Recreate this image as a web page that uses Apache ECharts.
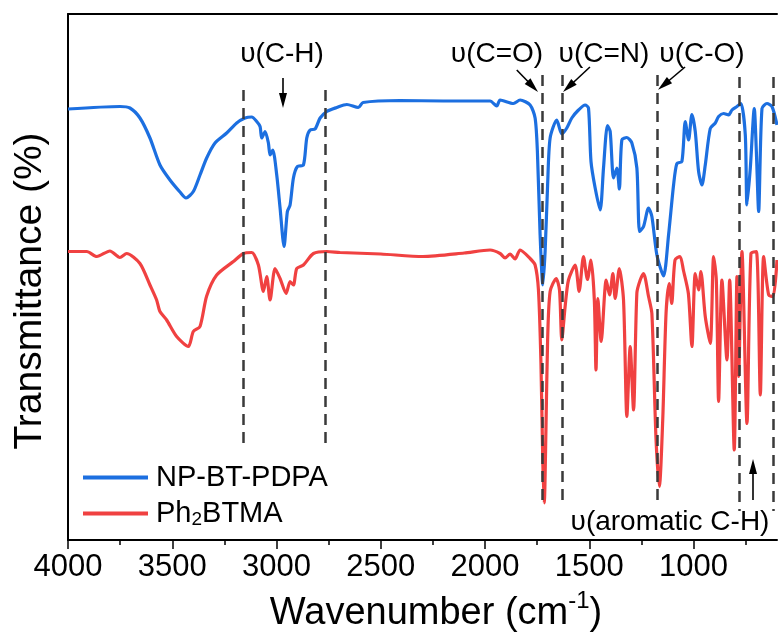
<!DOCTYPE html>
<html>
<head>
<meta charset="utf-8">
<script src="https://cdn.jsdelivr.net/npm/echarts@6/dist/echarts.min.js"></script>
<style>html,body{margin:0;padding:0;background:#fff}#c{width:778px;height:636px}</style>
</head>
<body>
<div id="c"></div>
<script>
// ---- data ----
const blueWn = [4000,3751,3703,3655,3607,3559,3511,3463,3434,3399,
3367,3335,3295,3239,3191,3151,3119,3095,3079,3071,
3055,3039,3031,3018,2999,2983,2964,2948,2935,2919,
2900,2871,2855,2839,2815,2791,2759,2711,2663,2608,
2585,2408,2200,1976,1944,1928,1864,1832,1784,1760,
1749,1736,1723,1712,1700,1688,1656,1632,1608,1584,
1552,1520,1504,1492,1472,1448,1432,1413,1400,1384,
1368,1356,1344,1320,1296,1272,1259,1240,1216,1200,
1176,1144,1120,1096,1080,1056,1040,1024,1008,992,
976,960,944,920,896,880,856,832,816,792,
773,752,744,728,709,699,688,672,648,624,
600];
const blueT = [86.2,86.7,86.4,84.4,80.4,75.0,72.0,69.6,68.4,69.7,
73.0,76.4,79.4,81.4,83.4,84.4,84.6,83.7,82.7,80.4,
81.7,79.4,77.0,78.0,73.0,66.4,58.7,65.7,67.0,72.4,
74.7,75.0,80.4,82.0,82.2,84.4,85.7,86.5,87.1,86.5,
87.5,87.9,87.8,87.8,86.8,88.0,87.3,88.0,87.0,84.4,
77.7,61.0,51.0,57.7,71.0,80.4,84.0,81.2,82.4,84.4,
86.0,87.0,86.4,75.7,70.4,66.0,74.4,82.9,81.7,72.4,
74.4,70.2,80.0,80.5,79.4,74.4,61.7,62.7,66.4,64.7,
57.0,52.8,61.0,71.0,75.3,75.7,83.7,80.0,85.1,81.7,
73.7,71.0,75.0,82.3,83.4,84.7,85.3,85.0,86.0,86.7,
87.3,81.0,67.0,74.4,86.3,77.7,65.7,86.3,87.3,86.7,
83.0];
const redWn = [4000,3910,3862,3799,3751,3719,3655,3607,3575,3559,
3527,3479,3423,3399,3367,3335,3287,3207,3159,3119,
3087,3063,3047,3031,3007,2983,2954,2935,2919,2903,
2871,2823,2759,2695,2500,2298,2100,1976,1928,1904,
1880,1856,1832,1784,1760,1744,1732,1723,1716,1708,
1700,1688,1659,1643,1632,1616,1600,1568,1549,1528,
1509,1492,1476,1468,1459,1443,1419,1403,1387,1376,
1356,1336,1320,1304,1288,1272,1256,1240,1216,1200,
1180,1164,1148,1132,1117,1105,1089,1065,1049,1025,
1008,992,976,965,944,920,904,891,880,864,
840,827,805,792,784,768,744,725,699,680,
664,640,619,600];
const redT = [57.7,57.7,56.7,57.8,56.5,57.3,55.3,51.0,48.0,45.7,
44.0,40.7,38.7,41.7,42.7,48.8,53.0,55.7,57.3,57.5,
55.0,49.7,52.7,48.0,54.3,52.3,49.3,51.7,51.0,54.3,
55.0,57.3,57.7,57.5,57.2,56.7,57.4,58.0,57.3,56.4,
57.2,56.2,58.0,56.3,55.0,50.0,35.4,15.4,7.4,22.0,
40.0,49.7,52.3,50.0,40.0,46.7,52.0,55.0,49.7,56.7,
52.1,56.0,48.0,34.0,48.3,39.7,52.0,49.0,53.3,48.3,
54.3,48.0,24.7,38.7,26.0,49.4,52.0,53.3,48.7,45.3,
20.0,10.7,24.0,45.4,51.3,47.3,56.0,56.7,54.0,49.3,
38.7,53.3,50.0,53.7,44.7,39.3,56.7,52.0,27.7,52.0,
36.0,52.0,18.0,52.7,32.7,57.7,23.3,57.3,57.7,29.0,
56.7,49.0,48.7,56.0];

const seriesNames = ['NP-BT-PDPA', 'Ph2BTMA'];
const majorTicks = [4000,3500,3000,2500,2000,1500,1000];
const minorTicks = [3750,3250,2750,2250,1750,1250,750];

// guide (dashed) lines: wavenumber, top, bottom
const dashX      = [3160, 2766, 1728, 1632, 1172, 780, 617];
const dashTop    = [90, 90, 93, 93, 93, 92.6, 92.6];
const dashBottom = [18.8, 18.8, 6.6, 6.6, 8, 5.8, 5.8];

// arrows: start -> end (wavenumber, value)
const arrowFrom = [[2969,92.4],[1848,94],[1497,94.6],[1041,94.6],[715,8]];
const arrowTo   = [[2969,87.9],[1771,90.7],[1600,90.6],[1143,91.0],[715,14.7]];

// band labels
const bandLabels = ['υ(C-H)','υ(C=O)','υ(C=N)','υ(C-O)','υ(aromatic C-H)'];

// ---- chart ----
const FONT = '"Liberation Sans", Arial, sans-serif';
const zip = (a, b) => a.map((v, i) => [v, b[i]]);

const dashData = dashX.map((x, i) => [{coord: [x, dashTop[i]]}, {coord: [x, dashBottom[i]]}]);
const arrowData = arrowFrom.map((p, i) => [{coord: p}, {coord: arrowTo[i]}]);

const chart = echarts.init(document.getElementById('c'), null, {renderer: 'canvas'});
const xBase = {type: 'value', min: 600, max: 4000, inverse: true, splitLine: {show: false}};
chart.setOption({
  animation: false,
  backgroundColor: '#fff',
  grid: {left: 68, top: 14, right: 1, bottom: 96, containLabel: false},
  xAxis: [
    Object.assign({}, xBase, {
      position: 'bottom',
      axisLine: {show: true, onZero: false, lineStyle: {color: '#000', width: 2}},
      axisTick: {show: true, customValues: majorTicks, length: 9, lineStyle: {color: '#000', width: 1.5}},
      axisLabel: {show: true, customValues: majorTicks, fontSize: 31, color: '#000', fontFamily: FONT, margin: 12,
        formatter: v => String(v)}
    }),
    Object.assign({}, xBase, {
      position: 'bottom',
      axisLine: {show: false, onZero: false},
      axisTick: {show: true, customValues: minorTicks, length: 5, lineStyle: {color: '#000', width: 1.5}},
      axisLabel: {show: false}
    }),
    Object.assign({}, xBase, {
      position: 'top',
      axisLine: {show: true, onZero: false, lineStyle: {color: '#000', width: 2}},
      axisTick: {show: false},
      axisLabel: {show: false}
    })
  ],
  yAxis: {
    type: 'value', min: 0, max: 105.2,
    axisLine: {show: true, onZero: false, lineStyle: {color: '#000', width: 2}},
    axisTick: {show: false}, axisLabel: {show: false}, splitLine: {show: false}
  },
  legend: {
    data: seriesNames,
    orient: 'vertical',
    left: 78, top: 458,
    itemWidth: 65, itemHeight: 4, itemGap: 7,
    icon: 'rect',
    formatter: n => n === 'Ph2BTMA' ? 'Ph{sub|2}BTMA' : n,
    textStyle: {
      fontSize: 29, color: '#000', fontFamily: FONT, padding: [0, 0, 0, 3],
      rich: {sub: {fontSize: 19, fontFamily: FONT, color: '#000', verticalAlign: 'bottom', padding: [12, 0, 0, 0]}}
    }
  },
  series: [
    {
      name: seriesNames[1], type: 'line', data: zip(redWn, redT),
      showSymbol: false, symbol: 'none', color: '#f04141', smooth: 0.25,
      lineStyle: {width: 3.2, color: '#f04141'}, z: 2
    },
    {
      name: seriesNames[0], type: 'line', data: zip(blueWn, blueT),
      showSymbol: false, symbol: 'none', color: '#1c6fe0', smooth: 0.25,
      lineStyle: {width: 3.2, color: '#1c6fe0'}, z: 3
    },
    {
      name: 'guides', type: 'line', data: [], z: 5, silent: true,
      markLine: {
        silent: true, animation: false, symbol: ['none', 'none'],
        label: {show: false},
        lineStyle: {type: [11, 7], color: '#3a3a3a', width: 2.5},
        emphasis: {disabled: true},
        data: dashData
      }
    },
    {
      name: 'arrows', type: 'line', data: [], z: 6, silent: true,
      markLine: {
        silent: true, animation: false, symbol: ['none', 'triangle'], symbolSize: [8, 15],
        label: {show: false},
        lineStyle: {type: 'solid', color: '#000', width: 1.6},
        emphasis: {disabled: true},
        data: arrowData
      }
    }
  ],
  graphic: [
    {type: 'text', x: 282, y: 54, style: {text: bandLabels[0], font: '28px ' + FONT, fill: '#000', align: 'center', verticalAlign: 'middle'}},
    {type: 'text', x: 497, y: 54, style: {text: bandLabels[1], font: '28px ' + FONT, fill: '#000', align: 'center', verticalAlign: 'middle'}},
    {type: 'text', x: 604, y: 54, style: {text: bandLabels[2], font: '28px ' + FONT, fill: '#000', align: 'center', verticalAlign: 'middle'}},
    {type: 'text', x: 702, y: 54, style: {text: bandLabels[3], font: '28px ' + FONT, fill: '#000', align: 'center', verticalAlign: 'middle'}},
    {type: 'text', x: 670, y: 522, style: {text: bandLabels[4], font: '28px ' + FONT, fill: '#000', align: 'center', verticalAlign: 'middle'}},
    {type: 'text', x: 30, y: 291, rotation: Math.PI / 2,
      style: {text: 'Transmittance (%)', font: '39px ' + FONT, fill: '#000', align: 'center', verticalAlign: 'middle'}},
    {type: 'text', x: 436, y: 611,
      style: {
        text: '{a|Wavenumber (cm}{s|-1}{a|)}', align: 'center', verticalAlign: 'middle', fill: '#000',
        rich: {
          a: {fontSize: 38, fontFamily: FONT, fill: '#000', lineHeight: 44, verticalAlign: 'bottom'},
          s: {fontSize: 24, fontFamily: FONT, fill: '#000', lineHeight: 44, verticalAlign: 'top'}
        }
      }
    }
  ]
});
</script>
</body>
</html>
